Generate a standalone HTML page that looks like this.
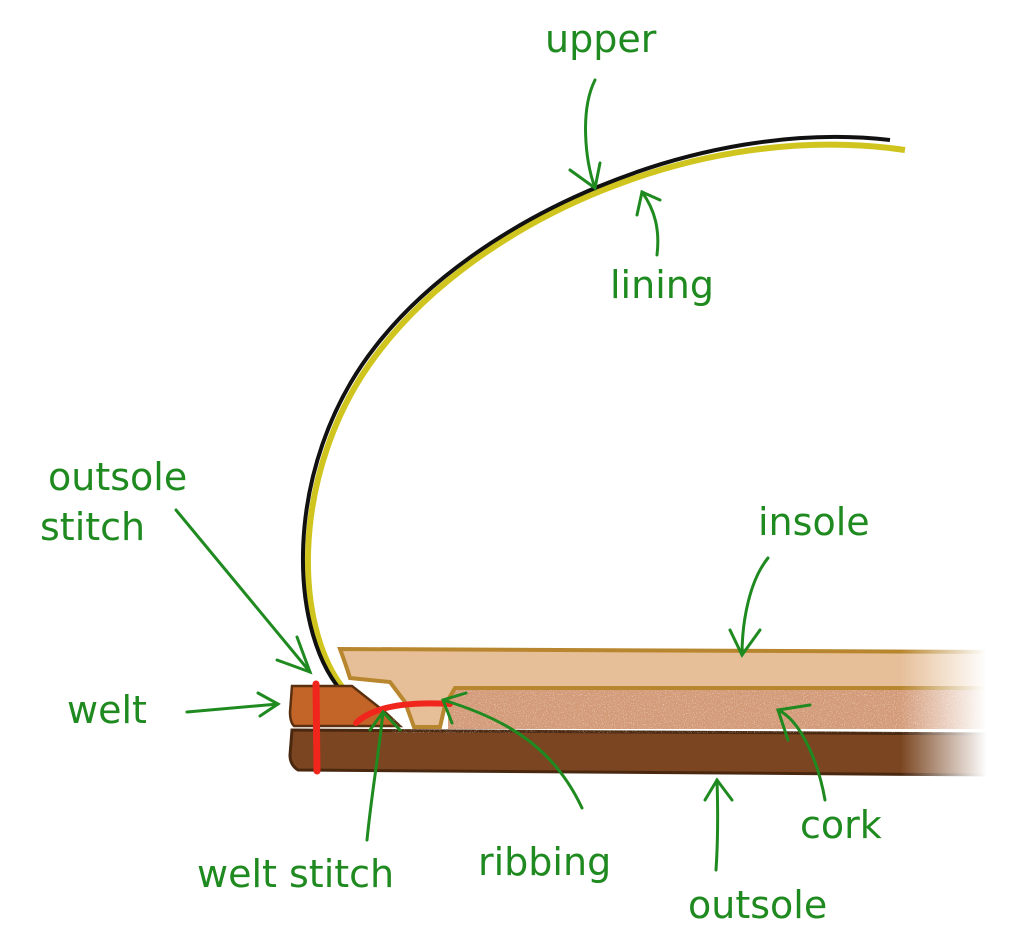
<!DOCTYPE html>
<html><head><meta charset="utf-8"><style>
html,body{margin:0;padding:0;background:#fff;width:1024px;height:950px;overflow:hidden}
text{font-family:"DejaVu Sans","Liberation Sans",sans-serif;fill:#1f8a1f;font-size:38px}
</style></head><body>
<svg width="1024" height="950" viewBox="0 0 1024 950" xmlns="http://www.w3.org/2000/svg">
<defs>
<linearGradient id="fade" x1="0" x2="1" y1="0" y2="0">
<stop offset="0" stop-color="#fff" stop-opacity="0"/><stop offset="0.7" stop-color="#fff" stop-opacity="1"/><stop offset="1" stop-color="#fff" stop-opacity="1"/>
</linearGradient>
<filter id="spk"><feTurbulence type="fractalNoise" baseFrequency="0.9" numOctaves="2" result="n"/>
<feColorMatrix in="n" type="matrix" values="0 0 0 0 1 0 0 0 0 1 0 0 0 0 1 0 0 0 3 -1.6"/></filter>
</defs>
<path d="M352,698 C292,640 286,470 380,350 C480,220 700,120 905,150" fill="none" stroke="#cfc51e" stroke-width="6"/>
<path d="M347,697 C287,638 281,467 375,347 C475,217 700,118 890,140" fill="none" stroke="#111" stroke-width="4"/>
<path d="M292,730 L1000,734 L1000,775 L298,770 Q290,765 290,755 Z" fill="#7a4520" stroke="#4a2810" stroke-width="3"/>
<path d="M292,686 L352,686 L385,712 L400,726 L294,726 Q290,722 290,712 Z" fill="#c36528" stroke="#5a3010" stroke-width="2.5"/>
<rect x="448" y="689" width="552" height="40" fill="#d39a78"/>
<rect x="448" y="689" width="552" height="40" filter="url(#spk)" opacity="0.6"/>
<path d="M340,649 L1000,652 L1000,688 L455,688 L445,705 L440,727 L414,727 L405,702 L390,682 L350,678 Q346,665 340,649 Z" fill="#e6bf98" stroke="#b8862e" stroke-width="4"/>
<rect x="900" y="640" width="124" height="145" fill="url(#fade)"/>
<path d="M316,684 L317,771" stroke="#f0261c" stroke-width="7" stroke-linecap="round"/>
<path d="M356,723 Q380,700 450,704" fill="none" stroke="#f0261c" stroke-width="6" stroke-linecap="round"/>
<g fill="none" stroke="#1f8a1f" stroke-width="3" stroke-linecap="round">
<path d="M595,80 C580,110 585,160 595,188"/><path d="M570,170 L595,188 L600,163"/>
<path d="M657,255 C660,230 655,210 642,192"/><path d="M637,215 L642,192 L660,200"/>
<path d="M176,510 L310,672"/><path d="M277,660 L310,672 L297,637"/>
<path d="M187,712 L278,704"/><path d="M258,693 L278,704 L260,716"/>
<path d="M367,840 C372,790 378,760 383,712"/><path d="M370,730 L383,712 L400,730"/>
<path d="M582,808 C555,750 510,720 443,700"/><path d="M452,723 L443,700 L466,693"/>
<path d="M768,558 C750,580 742,620 742,655"/><path d="M730,630 L742,655 L760,630"/>
<path d="M825,800 C818,760 800,720 778,710"/><path d="M810,705 L778,710 L788,740"/>
<path d="M716,870 C718,840 718,810 717,780"/><path d="M705,800 L717,780 L732,800"/>
</g>
<text x="545" y="52">upper</text>
<text x="610" y="298">lining</text>
<text x="48" y="490">outsole</text>
<text x="40" y="540">stitch</text>
<text x="67" y="723">welt</text>
<text x="758" y="535">insole</text>
<text x="800" y="838">cork</text>
<text x="688" y="918">outsole</text>
<text x="478" y="875">ribbing</text>
<text x="197" y="887">welt stitch</text>
</svg>
</body></html>
